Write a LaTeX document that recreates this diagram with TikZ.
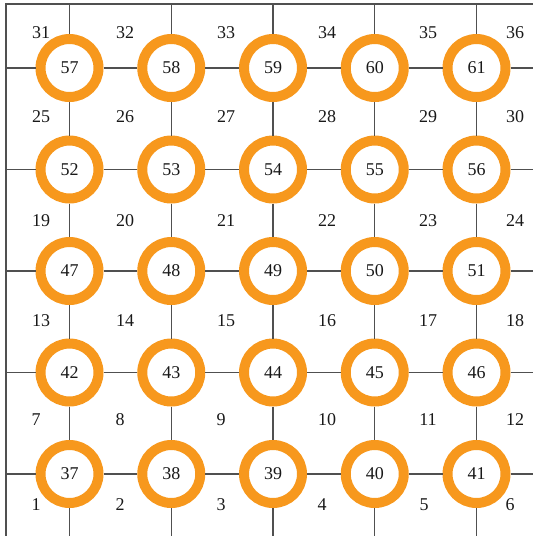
\documentclass[tikz,border=0pt]{standalone}
\usepackage{fontspec}
\setmainfont{Liberation Serif}
\definecolor{ringorange}{RGB}{247,152,29}
\definecolor{gridgray}{RGB}{80,80,80}
\definecolor{txt}{RGB}{25,25,25}
\begin{document}
\begin{tikzpicture}[x=1pt,y=-1pt,
  ring/.style={circle, draw=ringorange, line width=10pt, fill=white, minimum size=58pt, inner sep=0pt, text=txt, font=\fontsize{18}{20}\selectfont},
  gridline/.style={draw=gridgray, line width=1.1pt},
  cell/.style={inner sep=0pt, text=txt, font=\fontsize{18}{20}\selectfont}]
\useasboundingbox (0,0) rectangle (533,536);
% ring nodes
\foreach \r in {0,...,4}{
  \foreach \c in {0,...,4}{
    \pgfmathtruncatemacro{\num}{57-5*\r+\c}
    \node[ring] (n\r\c) at ({69.5+101.75*\c},{68+101.5*\r}) {\num};
  }
}
% edge coordinates
\coordinate (tl) at (5,4);
\coordinate (tr) at (533,4);
\coordinate (lt) at (6,4);
\coordinate (lb) at (6,536);
\foreach \r in {0,...,4}{
  \coordinate (hl\r) at (6,{68+101.5*\r});
  \coordinate (hr\r) at (533,{68+101.5*\r});
}
\foreach \c in {0,...,4}{
  \coordinate (vt\c) at ({69.5+101.75*\c},4);
  \coordinate (vb\c) at ({69.5+101.75*\c},536);
}
% borders
\draw[gridline] (tl) -- (tr);
\draw[gridline] (lt) -- (lb);
% horizontal lines
\foreach \r in {0,...,4}{
  \draw[gridline] (hl\r) -- (n\r0) -- (n\r1) -- (n\r2) -- (n\r3) -- (n\r4) -- (hr\r);
}
% vertical lines
\foreach \c in {0,...,4}{
  \draw[gridline] (vt\c) -- (n0\c) -- (n1\c) -- (n2\c) -- (n3\c) -- (n4\c) -- (vb\c);
}
% cell numbers
\foreach \x/\t [count=\i] in {41/31,125/32,226/33,327/34,428/35,515/36}{
  \node[cell] (a\i) at (\x,33) {\t};
}
\foreach \x/\t [count=\i] in {41/25,125/26,226/27,327/28,428/29,515/30}{
  \node[cell] (b\i) at (\x,117) {\t};
}
\foreach \x/\t [count=\i] in {41/19,125/20,226/21,327/22,428/23,515/24}{
  \node[cell] (c\i) at (\x,221) {\t};
}
\foreach \x/\t [count=\i] in {41/13,125/14,226/15,327/16,428/17,515/18}{
  \node[cell] (d\i) at (\x,321) {\t};
}
\foreach \x/\t [count=\i] in {36/7,120/8,221/9,327/10,428/11,515/12}{
  \node[cell] (e\i) at (\x,420) {\t};
}
\foreach \x/\t [count=\i] in {36/1,120/2,221/3,322/4,424/5,510/6}{
  \node[cell] (f\i) at (\x,505) {\t};
}
\end{tikzpicture}
\end{document}
